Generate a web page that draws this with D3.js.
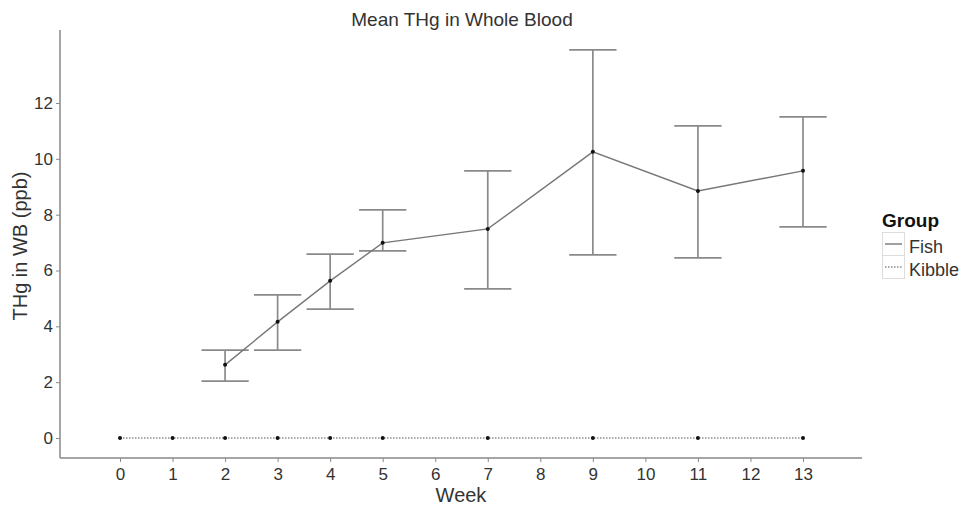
<!DOCTYPE html>
<html>
<head>
<meta charset="utf-8">
<script src="https://cdn.jsdelivr.net/npm/d3@7"></script>
<style>
  body { margin: 0; background: #fff; }
  text { font-family: "Liberation Sans", Arial, sans-serif; }
</style>
</head>
<body>
<svg id="chart" width="968" height="508"></svg>
<script>
// data
const weekTicks = [0, 1, 2, 3, 4, 5, 6, 7, 8, 9, 10, 11, 12, 13];
const yTicks = [0, 2, 4, 6, 8, 10, 12];

const fishWeeks = [2, 3, 4, 5, 7, 9, 11, 13];
const fishMean  = [2.62, 4.16, 5.63, 6.99, 7.49, 10.25, 8.85, 9.57];
const fishLow   = [2.04, 3.15, 4.62, 6.70, 5.34, 6.56, 6.45, 7.56];
const fishHigh  = [3.15, 5.13, 6.59, 8.17, 9.57, 13.90, 11.18, 11.50];

const kibbleWeeks = [0, 1, 2, 3, 4, 5, 7, 9, 11, 13];
const kibbleMean  = [0, 0, 0, 0, 0, 0, 0, 0, 0, 0];

const groups = ["Fish", "Kibble"];

const svg = d3.select('#chart');

const x = d3.scaleLinear().domain([0, 13]).range([120, 803]);
const y = d3.scaleLinear().domain([0, 12]).range([438, 103]);

const plotL = 60, plotR = 862, plotT = 30, plotB = 458;
const axisCol = "#888";
const textCol = "#333";

// axes
const xAxis = svg.append("g").attr("transform", `translate(0,${plotB})`)
  .call(d3.axisBottom(x).tickValues(weekTicks).tickFormat(d3.format("d")).tickSize(4).tickSizeOuter(0));
xAxis.select(".domain").attr("d", `M${plotL},0H${plotR}`);
const yAxis = svg.append("g").attr("transform", `translate(${plotL},0)`)
  .call(d3.axisLeft(y).tickValues(yTicks).tickSize(4).tickSizeOuter(0));
yAxis.select(".domain").attr("d", `M0,${plotT}V${plotB}`);

svg.selectAll(".domain").attr("stroke", axisCol).attr("stroke-width", 1.5);
svg.selectAll(".tick line").attr("stroke", axisCol);
svg.selectAll(".tick text").attr("fill", textCol).style("font-size", "17px")
  .style("font-family", '"Liberation Sans", Arial, sans-serif');
xAxis.selectAll(".tick text").attr("dy", "0.71em").attr("y", 10);
yAxis.selectAll(".tick text").attr("x", -7);

// error bars (Fish)
const capHalf = (x(1) - x(0)) * 0.45;
const eb = svg.append("g").attr("stroke", "#8a8a8a").attr("stroke-width", 1.7).attr("fill", "none");
fishWeeks.forEach((w, i) => {
  eb.append("line").attr("x1", x(w)).attr("x2", x(w)).attr("y1", y(fishLow[i])).attr("y2", y(fishHigh[i]));
  eb.append("line").attr("x1", x(w) - capHalf).attr("x2", x(w) + capHalf).attr("y1", y(fishLow[i])).attr("y2", y(fishLow[i]));
  eb.append("line").attr("x1", x(w) - capHalf).attr("x2", x(w) + capHalf).attr("y1", y(fishHigh[i])).attr("y2", y(fishHigh[i]));
});

const line = d3.line().x(d => x(d[0])).y(d => y(d[1]));

const fishData = fishWeeks.map((w, i) => [w, fishMean[i]]);
const kibbleData = kibbleWeeks.map((w, i) => [w, kibbleMean[i]]);

svg.append("path").datum(fishData).attr("d", line)
  .attr("fill", "none").attr("stroke", "#777").attr("stroke-width", 1.4);
svg.append("path").datum(kibbleData).attr("d", line)
  .attr("fill", "none").attr("stroke", "#555").attr("stroke-width", 1.1).attr("stroke-dasharray", "1.5,1.5");

svg.append("g").selectAll("circle").data(fishData.concat(kibbleData)).join("circle")
  .attr("cx", d => x(d[0])).attr("cy", d => y(d[1])).attr("r", 2).attr("fill", "#111");

// titles
svg.append("text").attr("x", 462).attr("y", 26).attr("text-anchor", "middle")
  .attr("fill", textCol).style("font-size", "19px").text("Mean THg in Whole Blood");
svg.append("text").attr("x", 461).attr("y", 502).attr("text-anchor", "middle")
  .attr("fill", textCol).style("font-size", "20px").text("Week");
svg.append("text").attr("transform", `translate(27,246) rotate(-90)`).attr("text-anchor", "middle")
  .attr("fill", textCol).style("font-size", "20px").text("THg in WB (ppb)");

// legend
const lg = svg.append("g").attr("transform", "translate(882,0)");
lg.append("text").attr("x", 0).attr("y", 227).style("font-size", "19px").style("font-weight", "bold")
  .attr("fill", "#111").text("Group");
groups.forEach((g, i) => {
  const yy = 232 + i * 23;
  lg.append("rect").attr("x", 0.5).attr("y", yy + 0.5).attr("width", 22).attr("height", 23)
    .attr("fill", "#fff").attr("stroke", "#ddd");
  lg.append("line").attr("x1", 3).attr("x2", 20).attr("y1", yy + 12).attr("y2", yy + 12)
    .attr("stroke", i === 0 ? "#777" : "#555").attr("stroke-width", i === 0 ? 1.4 : 1.1)
    .attr("stroke-dasharray", i === 0 ? null : "1.5,1.5");
  lg.append("text").attr("x", 27).attr("y", yy + 21).style("font-size", "18px")
    .attr("fill", textCol).text(g);
});
</script>
</body>
</html>
